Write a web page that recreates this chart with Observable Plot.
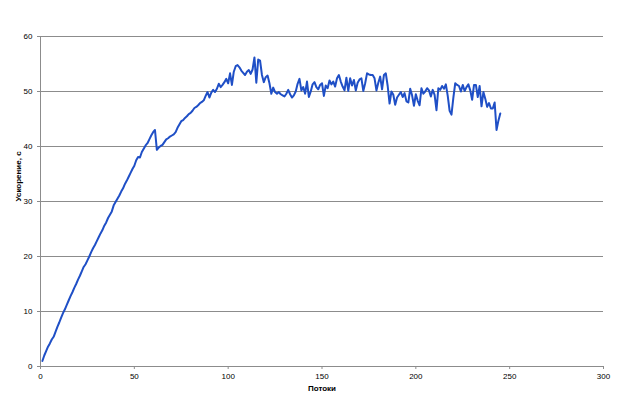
<!DOCTYPE html>
<html>
<head>
<meta charset="utf-8">
<script src="https://cdn.jsdelivr.net/npm/d3@7"></script>
<script src="https://cdn.jsdelivr.net/npm/@observablehq/plot@0.6"></script>
<style>
  html, body { margin: 0; padding: 0; background: #ffffff; }
  #chart svg { display: block; }
</style>
</head>
<body>
<div id="chart"></div>
<script>
// Speed-up (Ускорение) by number of threads (Потоки), threads 1..245
const speedup = [
  1.0, 2.0, 2.8, 3.6, 4.2, 4.9, 5.4, 6.3, 7.2, 8.0,
  8.9, 9.7, 10.4, 11.2, 12.0, 12.8, 13.5, 14.3, 15.0, 15.8,
  16.5, 17.3, 18.1, 18.6, 19.3, 20.0, 20.8, 21.5, 22.1, 22.8,
  23.5, 24.2, 24.8, 25.6, 26.2, 27.0, 27.6, 28.2, 29.3, 29.9,
  30.5, 31.1, 31.8, 32.4, 33.2, 33.8, 34.5, 35.2, 35.9, 36.5,
  37.5, 38.1, 38.0, 39.0, 39.6, 40.2, 40.6, 41.3, 42.0, 42.6,
  43.0, 39.4, 39.8, 40.1, 40.3, 40.8, 41.3, 41.5, 41.8, 42.0,
  42.2, 42.6, 43.4, 44.0, 44.6, 44.8, 45.2, 45.5, 45.9, 46.1,
  46.5, 47.0, 47.2, 47.5, 47.9, 48.1, 48.4, 49.2, 49.9, 48.9,
  49.8, 50.3, 49.9, 50.5, 51.4, 50.8, 51.2, 51.7, 52.3, 51.5,
  53.3, 51.2, 53.6, 54.6, 54.8, 54.4, 53.8, 53.4, 53.0, 53.6,
  53.9, 53.2, 54.0, 56.2, 51.6, 55.8, 55.6, 53.0, 51.7, 52.6,
  52.9, 51.5, 49.6, 50.7, 49.9, 49.6, 49.9, 49.5, 49.3, 49.1,
  49.6, 50.3, 49.5, 48.9, 49.3, 50.0, 51.4, 52.3, 50.2, 50.8,
  49.6, 51.8, 49.0, 50.0, 51.3, 51.7, 50.8, 50.4, 51.2, 51.5,
  49.2, 51.1, 50.6, 52.0, 51.3, 51.8, 50.9, 52.4, 53.0, 51.8,
  50.9, 50.2, 52.5, 50.1, 52.4, 51.1, 52.1, 50.2, 51.6, 52.2,
  52.4, 50.1, 51.5, 53.3, 53.1, 53.0, 53.0, 52.4, 50.2, 51.6,
  52.7, 50.4, 53.0, 53.3, 51.0, 47.8, 50.0, 49.4, 47.6, 48.9,
  49.4, 49.9, 49.0, 49.7, 48.2, 48.0, 50.5, 49.3, 47.4, 49.5,
  48.3, 47.5, 50.6, 49.6, 50.0, 50.6, 50.2, 49.1, 50.3, 49.4,
  46.6, 50.6, 50.3, 51.0, 50.5, 51.3, 49.2, 46.5, 45.8, 48.9,
  51.5, 51.2, 51.0, 50.0, 51.2, 50.1, 50.8, 51.3, 50.2, 48.5,
  51.2, 51.2, 49.0, 51.0, 47.3, 49.9, 48.7, 47.2, 47.9, 46.9,
  46.9, 48.0, 43.0, 44.7, 46.0
];
const threads = speedup.map((_, i) => i + 1);

const xTicks = [0, 50, 100, 150, 200, 250, 300];
const yTicks = [0, 10, 20, 30, 40, 50, 60];
const xTitle = ["Потоки"];
const yTitle = ["Ускорение, с"];

const data = threads.map((t, i) => ({ t, v: speedup[i] }));

const chart = Plot.plot({
  width: 620,
  height: 406,
  marginLeft: 40,
  marginRight: 17,
  marginTop: 36,
  marginBottom: 40,
  style: { fontFamily: "'Liberation Sans', Arial, sans-serif", fontSize: "8px", background: "#ffffff", color: "#000" },
  x: { domain: [0, 300] },
  y: { domain: [0, 60] },
  marks: [
    Plot.ruleY(yTicks.filter(d => d > 0), { stroke: "#8c8c8c", strokeWidth: 1 }),
    Plot.ruleX([0], { stroke: "#8c8c8c", strokeWidth: 1 }),
    Plot.ruleY([0], { stroke: "#8c8c8c", strokeWidth: 1 }),
    Plot.axisX({ ticks: xTicks, tickSize: 3, tickPadding: 4, stroke: "#8c8c8c", label: null, fill: "#000" }),
    Plot.axisY({ ticks: yTicks, tickSize: 3, tickPadding: 5, stroke: "#8c8c8c", label: null, fill: "#000" }),
    Plot.line(data, { x: "t", y: "v", stroke: "#1f4fc6", strokeWidth: 2 }),
    Plot.text(xTitle, { frameAnchor: "bottom", dy: 24, text: d => d, fontWeight: "bold", fontSize: 8 }),
    Plot.text(yTitle, { frameAnchor: "left", dx: -22, rotate: -90, text: d => d, fontWeight: "bold", fontSize: 8 })
  ]
});

document.getElementById("chart").appendChild(chart);
</script>
</body>
</html>
